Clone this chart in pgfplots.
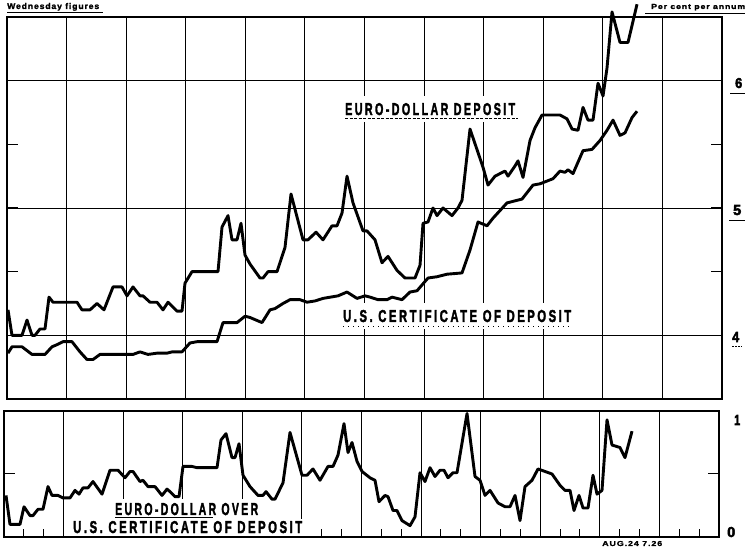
\documentclass[border=0pt]{standalone}
\usepackage{fontspec}
\setmainfont{Liberation Sans}
\newfontfamily\lab[LetterSpace=22, BoldFeatures={FakeBold=2.5}]{Liberation Sans}
\newfontfamily\labs[LetterSpace=10, BoldFeatures={FakeBold=1.5}]{Liberation Sans}
\newfontfamily\digs[BoldFeatures={FakeBold=3.5}]{Liberation Sans}
\usepackage{pgfplots}
\usepackage{pgfplotstable}
\pgfplotsset{compat=1.18}
\newcommand{\fit}[3]{\resizebox{#1bp}{#2bp}{#3}}

% Euro-dollar deposit rate (x = horizontal position across the 12 chart columns, y = per cent)
\pgfplotstableread{
x y
8 4.20
12 4.00
22 4.00
27 4.12
32 4.00
35 4.00
40 4.05
45 4.05
49 4.30
53 4.26
77 4.26
82 4.20
90 4.20
97 4.25
104 4.20
113 4.38
122 4.38
127 4.31
133 4.38
140 4.31
143 4.31
150 4.26
157 4.26
163 4.20
168 4.26
177 4.19
182 4.19
185 4.41
192 4.50
218 4.50
222 4.85
228 4.94
232 4.75
237 4.75
241 4.88
245 4.63
250 4.56
260 4.45
263 4.45
268 4.50
277 4.50
285 4.69
291 5.11
303 4.75
308 4.75
316 4.81
323 4.75
332 4.86
337 4.86
342 4.96
347 5.25
353 5.04
363 4.82
367 4.82
375 4.75
382 4.57
388 4.62
397 4.51
405 4.45
415 4.45
420 4.55
423 4.88
428 4.89
433 5.00
437 4.94
443 5.00
452 4.94
458 5.00
462 5.06
470 5.62
483 5.32
488 5.18
495 5.25
500 5.27
505 5.29
508 5.25
515 5.33
518 5.37
523 5.24
530 5.53
535 5.63
542 5.73
560 5.73
567 5.70
572 5.62
578 5.61
583 5.79
588 5.69
593 5.69
598 5.98
603 5.88
607 6.10
612 6.54
620 6.30
628 6.30
637 6.60
}\euro

% U.S. certificate of deposit rate
\pgfplotstableread{
x y
8 3.86
12 3.91
22 3.91
32 3.85
45 3.85
52 3.91
58 3.93
63 3.95
72 3.95
80 3.87
87 3.81
93 3.81
100 3.85
133 3.85
140 3.87
148 3.85
157 3.86
167 3.86
172 3.87
182 3.87
190 3.94
197 3.95
217 3.95
223 4.10
237 4.10
245 4.15
250 4.14
262 4.10
270 4.20
275 4.21
283 4.25
290 4.28
300 4.28
307 4.26
315 4.27
323 4.29
338 4.31
347 4.34
357 4.29
365 4.31
370 4.30
378 4.28
387 4.28
392 4.30
402 4.28
410 4.34
417 4.35
428 4.45
437 4.46
447 4.48
462 4.49
470 4.67
478 4.89
487 4.86
493 4.92
500 4.98
507 5.04
522 5.07
533 5.18
540 5.19
553 5.23
560 5.29
565 5.28
568 5.30
573 5.27
583 5.45
592 5.46
600 5.53
607 5.61
613 5.69
620 5.57
625 5.59
632 5.71
637 5.76
}\cd

% Euro-dollar over U.S. certificate of deposit
\pgfplotstableread{
x y
6 0.33
10 0.10
20 0.10
24 0.24
30 0.17
33 0.17
38 0.22
43 0.22
48 0.40
52 0.33
58 0.33
63 0.31
70 0.31
75 0.37
79 0.34
83 0.39
88 0.39
93 0.44
102 0.34
110 0.53
118 0.53
125 0.47
130 0.52
133 0.52
140 0.44
143 0.45
148 0.40
155 0.40
162 0.33
167 0.38
170 0.36
175 0.32
179 0.32
183 0.56
192 0.56
197 0.55
217 0.55
221 0.77
226 0.82
232 0.63
235 0.63
239 0.74
243 0.49
250 0.40
258 0.33
263 0.33
266 0.36
272 0.30
275 0.30
283 0.43
290 0.83
302 0.49
307 0.49
313 0.54
320 0.45
328 0.56
333 0.56
338 0.65
344 0.90
348 0.67
352 0.75
357 0.60
362 0.52
370 0.47
375 0.45
379 0.28
385 0.33
388 0.32
393 0.21
397 0.21
402 0.13
410 0.09
415 0.16
420 0.51
425 0.44
430 0.55
435 0.48
440 0.53
444 0.53
448 0.47
453 0.51
457 0.51
467 0.98
475 0.48
480 0.45
485 0.33
490 0.37
498 0.27
505 0.24
510 0.24
515 0.33
520 0.13
525 0.40
532 0.45
538 0.54
552 0.50
560 0.41
565 0.37
570 0.37
574 0.21
579 0.33
583 0.23
588 0.23
593 0.49
597 0.34
602 0.37
607 0.93
612 0.73
620 0.71
625 0.63
632 0.84
}\diff

\tikzset{lbl/.style={anchor=base west, fill=white, inner xsep=3bp, inner ysep=7bp}}

\begin{document}
\begin{tikzpicture}[x=1bp,y=1bp]
\useasboundingbox (0,0) rectangle (747,551);
\pgfplotsset{
  chart/.style={
    scale only axis, width=715bp, clip=false,
    axis line style={line width=1.3bp},
    grid style={black, line width=0.9bp},
    xmajorgrids, xticklabels={}, yticklabels={},
    tick align=inside,
    major tick length=11bp,
    tick style={black, line width=1bp},
  },
  data/.style={black, line width=2.9bp, line join=round, no marks},
}
\begin{axis}[chart, at={(7bp,152bp)}, anchor=south west, height=382bp,
  xmin=7, xmax=722, ymin=3.5, ymax=6.5,
  xtick={66.58,126.17,185.75,245.33,304.92,364.5,424.08,483.67,543.25,602.83,662.42},
  ytick={4,4.5,5,5.5,6}, ymajorgrids=false,
  extra y ticks={4,5,6}, extra y tick labels={}, extra y tick style={grid=major, major tick length=0pt},
  xtick style={draw=none}]
\node[lbl] at (axis cs:342,5.730) {\fit{170}{12}{\lab\bfseries EURO-DOLLAR DEPOSIT}};
\node[lbl] at (axis cs:340,4.105) {\fit{228}{12}{\lab\bfseries U.S. CERTIFICATE OF DEPOSIT}};
\addplot[data] table {\euro};
\addplot[data] table {\cd};
\end{axis}
\begin{axis}[chart, at={(4bp,14bp)}, anchor=south west, height=126bp,
  xmin=4, xmax=719, ymin=0, ymax=1,
  xtick={63.58,123.17,182.75,242.33,301.92,361.5,421.08,480.67,540.25,599.83,659.42},
  xtick pos=left,
  minor xtick={23.86,43.72,83.44,103.31,143.03,162.89,202.61,222.47,262.19,282.06,321.78,341.64,381.36,401.22,440.94,460.81,500.53,520.39,560.11,579.97,619.69,639.56,679.28,699.14},
  xminorgrids=false,
  minor tick length=8bp,
  minor x tick style={draw=black, line width=1bp},
  ytick={0.5}]
\node[lbl, inner ysep=2.5bp] at (axis cs:70,0.0317) {\fit{229}{12}{\lab\bfseries U.S. CERTIFICATE OF DEPOSIT}};
\node[lbl, inner ysep=4bp] at (axis cs:112,0.1746) {\fit{143}{12}{\lab\bfseries EURO-DOLLAR OVER}};
\addplot[data] table {\diff};
\end{axis}
\draw[line width=1bp] (115,33) -- (213,33);

% titles
\node[anchor=base west, inner sep=0] at (7,542) {\fit{92}{6}{\labs\bfseries Wednesday figures}};
\draw[line width=0.8bp] (7,539) -- (103,539);
\node[anchor=base west, inner sep=0] at (651,542) {\fit{94}{5}{\labs\bfseries Per cent per annum}};
\draw[line width=0.8bp] (645,538) -- (745,538);

\draw[line width=0.8bp, dash pattern=on 3bp off 1.5bp] (345,433) -- (518,433);
\draw[line width=0.6bp, dash pattern=on 1bp off 4bp] (343,225) -- (571,225);

\node[anchor=base west, inner sep=0] at (602,5) {\fit{60}{5}{\labs\bfseries AUG.24 7.26}};

% right-hand scale
\node[anchor=base west, inner sep=0] at (735,463) {\fit{7}{10}{\digs\bfseries 6}};
\draw[line width=0.9bp] (730,458) -- (745,458);
\node[anchor=base west, inner sep=0] at (733,336) {\fit{8}{10}{\digs\bfseries 5}};
\draw[line width=0.9bp] (729,331) -- (745,331);
\node[anchor=base west, inner sep=0] at (732,209) {\fit{7}{10}{\digs\bfseries 4}};
\draw[line width=0.6bp, dash pattern=on 1.5bp off 1.5bp] (732,205) -- (742,205);
\node[anchor=base west, inner sep=0] at (734,126) {\fit{6}{10}{\digs\bfseries 1}};
\node[anchor=base west, inner sep=0] at (727,14) {\fit{8}{10}{\digs\bfseries 0}};
\end{tikzpicture}
\end{document}
